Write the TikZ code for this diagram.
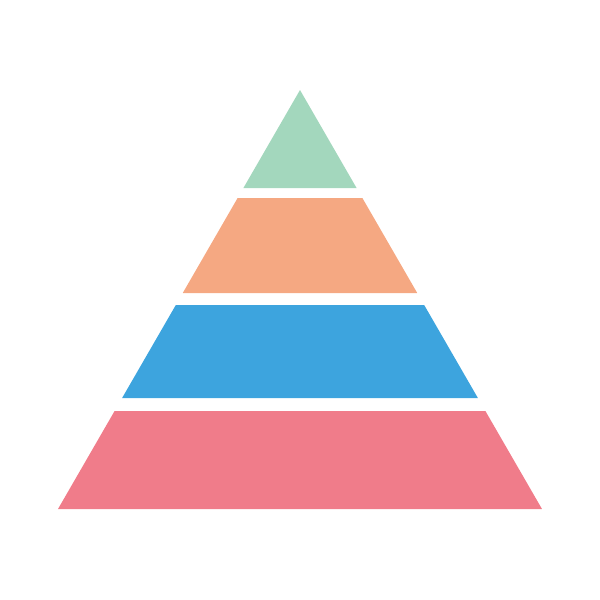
\documentclass[tikz,border=0pt]{standalone}
\usepackage{tikz}
\usetikzlibrary{calc}

\definecolor{tiergreen}{RGB}{163,215,189}
\definecolor{tierorange}{RGB}{245,168,130}
\definecolor{tierblue}{RGB}{61,164,222}
\definecolor{tierpink}{RGB}{240,124,138}

\begin{document}
\begin{tikzpicture}[
    x=0.02cm, y=-0.02cm,
    tier/.style = {fill=#1, draw=none},
    ]
    \useasboundingbox (0,0) rectangle (600,600);
    \coordinate (apex) at (300,90);
    \coordinate (base-left) at (58,509);
    \coordinate (base-right) at (542,509);
    % bands, as fractions of the height from the apex
    \foreach \tp/\bt/\col in {0/0.2339/tiergreen, 0.2578/0.4845/tierorange,
                              0.5131/0.7351/tierblue, 0.7661/1/tierpink}
    {
        \fill[tier=\col] ($(apex)!\tp!(base-left)$) -- ($(apex)!\bt!(base-left)$)
            -- ($(apex)!\bt!(base-right)$) -- ($(apex)!\tp!(base-right)$) -- cycle;
    }
\end{tikzpicture}
\end{document}
